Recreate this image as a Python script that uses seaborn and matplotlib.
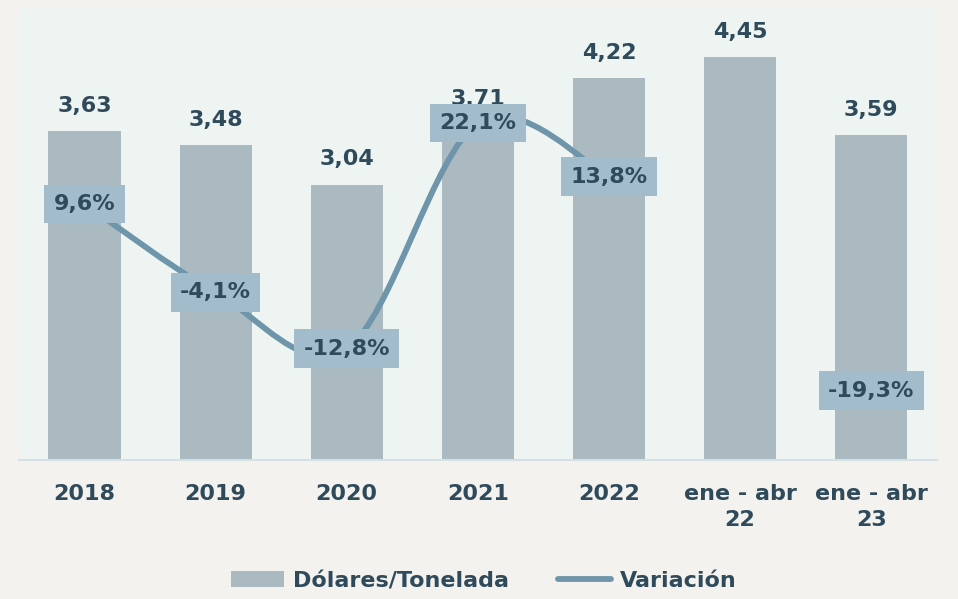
import matplotlib
matplotlib.use("Agg")
import matplotlib.pyplot as plt
from matplotlib.path import Path
from matplotlib.patches import PathPatch, Patch
from matplotlib.lines import Line2D
import seaborn as sns
import pandas as pd
import numpy as np

categorias = ["2018", "2019", "2020", "2021", "2022", "ene - abr\n22", "ene - abr\n23"]
dolares_tonelada = [3.63, 3.48, 3.04, 3.71, 4.22, 4.45, 3.59]
variacion = [9.6, -4.1, -12.8, 22.1, 13.8, np.nan, -19.3]

c_bar = "#abb9c1"
c_line = "#6f95aa"
c_box = "#a3bccb"
c_text = "#2f4a5a"

sns.set_theme(style="white")
plt.rcParams["font.family"] = ["DejaVu Sans"]
plt.rcParams["font.weight"] = "bold"

df = pd.DataFrame({"cat": categorias, "usd": dolares_tonelada, "var": variacion})

fig = plt.figure(figsize=(9.58, 5.99), dpi=100)
fig.patch.set_facecolor("#f3f2ef")
ax = fig.add_axes([0.0198, 0.232, 0.958, 0.756])
ax.set_facecolor("#eef4f1")

sns.barplot(data=df, x="cat", y="usd", ax=ax, color=c_bar, saturation=1, width=0.55,
            linewidth=0, edgecolor="none")
ax.set_ylim(0, 5)
ax.set_xlim(-0.5, len(categorias) - 0.5)
ax.bar_label(ax.containers[0],
             labels=[f"{v:.2f}".replace(".", ",") for v in dolares_tonelada],
             padding=11, fontsize=16, fontweight="bold", color=c_text)
ax.set_xlabel("")
ax.set_ylabel("")
ax.set_yticks([])
ax.tick_params(axis="x", length=0, pad=17, labelsize=16, labelcolor=c_text)
for lbl in ax.get_xticklabels():
    lbl.set_fontweight("bold")
    lbl.set_linespacing(1.4)
    lbl.set_verticalalignment("top")
for s in ["top", "left", "right"]:
    ax.spines[s].set_visible(False)
ax.spines["bottom"].set_color("#d5e0e5")
ax.spines["bottom"].set_linewidth(1.5)

# variacion en eje secundario
ax2 = ax.twinx()
ax2.set_ylim(-30, 40)
ax2.set_yticks([])
for s in ax2.spines.values():
    s.set_visible(False)

# tramo continuo suavizado (estilo Excel)
xs = [i for i, v in enumerate(variacion) if not np.isnan(v)]
run = []
for i in range(len(variacion)):
    if np.isnan(variacion[i]):
        break
    run.append(i)
px = np.array(run, dtype=float)
py = np.array([variacion[i] for i in run])
verts = [(px[0], py[0])]
codes = [Path.MOVETO]
n = len(px)
for i in range(n - 1):
    a = i - 1 if i > 0 else i
    d = i + 2 if i + 2 < n else i + 1
    verts.append((px[i] + (px[i + 1] - px[a]) / 6, py[i] + (py[i + 1] - py[a]) / 6))
    verts.append((px[i + 1] - (px[d] - px[i]) / 6, py[i + 1] - (py[d] - py[i]) / 6))
    verts.append((px[i + 1], py[i + 1]))
    codes += [Path.CURVE4] * 3
ax2.add_patch(PathPatch(Path(verts, codes), facecolor="none", edgecolor=c_line,
                        lw=4.2, capstyle="round", zorder=3))

for i in xs:
    v = variacion[i]
    ax2.text(i, v, f"{v:.1f}%".replace(".", ","), ha="center", va="center",
             fontsize=16, fontweight="bold", color=c_text, zorder=5,
             bbox=dict(boxstyle="square,pad=0.42", facecolor=c_box, edgecolor="none"))

handles = [Patch(facecolor=c_bar, edgecolor="none", label="Dólares/Tonelada"),
           Line2D([0], [0], color=c_line, lw=4.2, label="Variación")]
fig.legend(handles=handles, loc="center", bbox_to_anchor=(0.505, 0.03), ncol=2,
           frameon=False, handlelength=2.4, handleheight=0.7,
           columnspacing=2.2, handletextpad=0.4, labelcolor=c_text,
           prop={"weight": "bold", "size": 16})

fig.savefig("out.png", dpi=100, facecolor=fig.get_facecolor())
